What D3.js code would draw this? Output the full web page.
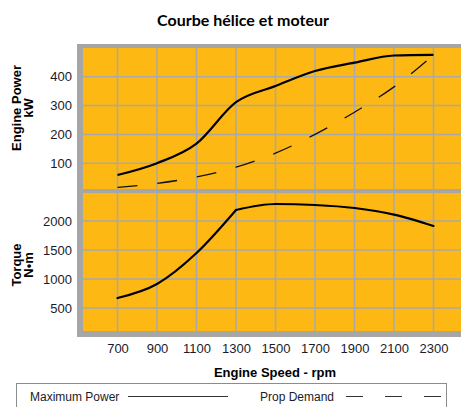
<!DOCTYPE html>
<html>
<head>
<meta charset="utf-8">
<script src="https://cdn.jsdelivr.net/npm/d3@7"></script>
<style>
  body { margin: 0; background: #fff; }
  svg { display: block; }
</style>
</head>
<body>
<div class="chart"></div>
<script>
// données
const rpm = [700, 900, 1100, 1300, 1500, 1700, 1900, 2100, 2300]
const maxPower = [59, 100, 168, 312, 368, 420, 449, 474, 476]
const propDemand = [16, 30, 52, 86, 135, 200, 277, 365, 476]
const torque = [672, 914, 1448, 2190, 2293, 2276, 2224, 2110, 1914]
const rpmTicks = [700, 900, 1100, 1300, 1500, 1700, 1900, 2100, 2300]
const powerTicks = [100, 200, 300, 400]
const torqueTicks = [500, 1000, 1500, 2000]

const W = 461, H = 407
const orange = '#FDB813'
const frameGray = '#A6A6A6'
const gridGray = '#A9A9A9'
const font = '"Liberation Sans", Arial, sans-serif'

const svg = d3.select('.chart').append('svg')
  .attr('width', W).attr('height', H)

// échelles
const x = d3.scaleLinear().domain([500, 2500]).range([78, 473])
const yP = d3.scaleLinear().domain([0, 500]).range([192, 48])
const yT = d3.scaleLinear().domain([0, 2500]).range([337, 192])

// titre
svg.append('text')
  .attr('x', 243).attr('y', 26)
  .attr('text-anchor', 'middle')
  .style('font-family', 'Lato, "Open Sans", sans-serif')
  .style('font-weight', 'bold')
  .style('font-size', '16px')
  .text('Courbe hélice et moteur')

// cadre gris + fonds orange
svg.append('rect').attr('x', 77).attr('y', 44).attr('width', W).attr('height', 293).attr('fill', frameGray)
svg.append('rect').attr('x', 83).attr('y', 48).attr('width', W).attr('height', 141).attr('fill', orange)
svg.append('rect').attr('x', 83).attr('y', 193).attr('width', W).attr('height', 138).attr('fill', orange)

// grille
const grid = svg.append('g').attr('stroke', gridGray).attr('stroke-width', 1.5)
grid.selectAll('line.vt').data(rpmTicks.concat([2500])).join('line')
  .attr('x1', d => x(d)).attr('x2', d => x(d)).attr('y1', 48).attr('y2', 189)
grid.selectAll('line.vb').data(rpmTicks.concat([2500])).join('line')
  .attr('x1', d => x(d)).attr('x2', d => x(d)).attr('y1', 193).attr('y2', 331)
grid.selectAll('line.hp').data(powerTicks).join('line')
  .attr('x1', 83).attr('x2', W).attr('y1', d => yP(d)).attr('y2', d => yP(d))
grid.selectAll('line.ht').data(torqueTicks).join('line')
  .attr('x1', 83).attr('x2', W).attr('y1', d => yT(d)).attr('y2', d => yT(d))

// courbes
const powerLine = d3.line().x(d => x(d[0])).y(d => yP(d[1])).curve(d3.curveMonotoneX)
const torqueLine = d3.line().x(d => x(d[0])).y(d => yT(d[1])).curve(d3.curveMonotoneX)
const pts = vals => vals.map((v, i) => [rpm[i], v])

svg.append('path').datum(pts(propDemand))
  .attr('d', powerLine)
  .attr('fill', 'none').attr('stroke', '#111').attr('stroke-width', 1.3)
  .attr('stroke-dasharray', '20,20')
svg.append('path').datum(pts(maxPower))
  .attr('d', powerLine)
  .attr('fill', 'none').attr('stroke', '#000').attr('stroke-width', 2.2)
// le couple casse net à 1300 tr/min : deux tronçons
const tq = pts(torque)
const kink = rpm.indexOf(1300)
svg.selectAll('path.torque').data([tq.slice(0, kink + 1), tq.slice(kink)]).join('path')
  .attr('class', 'torque')
  .attr('d', torqueLine)
  .attr('fill', 'none').attr('stroke', '#000').attr('stroke-width', 2.2)
  .attr('stroke-linecap', 'round')

// axes
function styleAxis(g) {
  g.select('.domain').remove()
  g.selectAll('.tick line').remove()
  g.selectAll('text')
    .style('font-family', font)
    .style('font-size', '13px')
    .attr('fill', '#1b1b2a')
}
svg.append('g').attr('transform', 'translate(72,0)')
  .call(d3.axisLeft(yP).tickValues(powerTicks).tickFormat(d3.format('d')).tickSize(0).tickPadding(0))
  .call(styleAxis)
svg.append('g').attr('transform', 'translate(72,0)')
  .call(d3.axisLeft(yT).tickValues(torqueTicks).tickFormat(d3.format('d')).tickSize(0).tickPadding(0))
  .call(styleAxis)
svg.append('g').attr('transform', 'translate(0,344)')
  .call(d3.axisBottom(x).tickValues(rpmTicks).tickFormat(d3.format('d')).tickSize(0).tickPadding(0))
  .call(styleAxis)

// titres d'axes
function axisTitle(lines, cx, cy) {
  const t = svg.append('text')
    .attr('transform', `translate(${cx},${cy}) rotate(-90)`)
    .attr('text-anchor', 'middle')
    .style('font-family', font)
    .style('font-weight', 'bold')
    .style('font-size', '13px')
  lines.forEach((s, i) => {
    t.append('tspan').attr('x', 0).attr('y', i * 12).text(s)
  })
}
axisTitle(['Engine Power', 'kW'], 21, 108)
axisTitle(['Torque', 'N•m'], 21, 265)

svg.append('text')
  .attr('x', 275).attr('y', 377)
  .attr('text-anchor', 'middle')
  .style('font-family', font)
  .style('font-weight', 'bold')
  .style('font-size', '13px')
  .text('Engine Speed - rpm')

// légende
const legend = svg.append('g')
legend.append('rect')
  .attr('x', 16.5).attr('y', 383.5).attr('width', 430).attr('height', 40)
  .attr('fill', 'none').attr('stroke', '#8c8c8c').attr('stroke-width', 1)
legend.append('text').attr('x', 30).attr('y', 401)
  .style('font-family', font).style('font-size', '12px').attr('fill', '#1b1b2a')
  .text('Maximum Power')
legend.append('line').attr('x1', 128).attr('x2', 228).attr('y1', 396.5).attr('y2', 396.5)
  .attr('stroke', '#333').attr('stroke-width', 1)
legend.append('text').attr('x', 260).attr('y', 401)
  .style('font-family', font).style('font-size', '12px').attr('fill', '#1b1b2a')
  .text('Prop Demand')
legend.append('line').attr('x1', 346).attr('x2', 441).attr('y1', 396.5).attr('y2', 396.5)
  .attr('stroke', '#333').attr('stroke-width', 1).attr('stroke-dasharray', '17,22')
</script>
</body>
</html>
